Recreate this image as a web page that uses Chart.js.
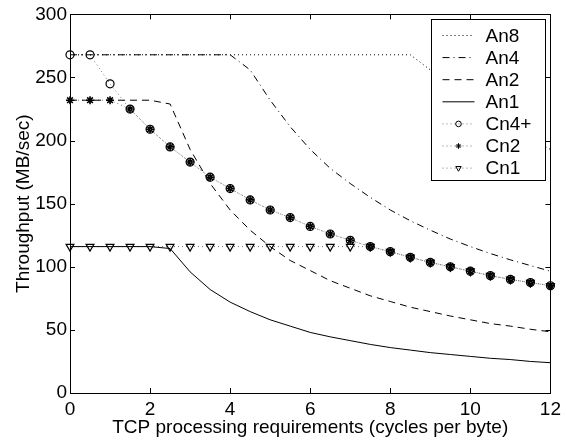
<!DOCTYPE html>
<html>
<head>
<meta charset="utf-8">
<script src="https://cdn.jsdelivr.net/npm/chart.js@4.4.1/dist/chart.umd.min.js"></script>
<style>
  html, body { margin: 0; padding: 0; background: #fff; }
  #wrap { width: 566px; height: 441px; }
</style>
</head>
<body>
<div id="wrap"><canvas id="myChart" width="566" height="441"></canvas></div>
<script>
// cycles per byte, sampled every half cycle
var cycles = [0, 0.5, 1, 1.5, 2, 2.5, 3, 3.5, 4, 4.5, 5, 5.5, 6, 6.5, 7, 7.5, 8, 8.5, 9, 9.5, 10, 10.5, 11, 11.5, 12];

// analytic curves (MB/sec)
var an8 = [268, 268, 268, 268, 268, 268, 268, 268, 268, 268, 268, 268, 268, 268, 268, 268, 268, 268, 256, 244, 232, 221, 211, 202, 193];
var an4 = [268, 268, 268, 268, 268, 268, 268, 268, 268, 256, 232, 211, 193, 178, 166, 155, 145, 136.5, 129, 122, 116, 110.5, 105.5, 101, 96.5];
var an2 = [232, 232, 232, 232, 232, 229, 193, 166, 145, 129, 116, 105, 97, 89, 83, 77, 72.5, 68, 64.5, 61, 58, 55, 53, 50.5, 48.5];
var an1 = [116, 116, 116, 116, 116, 114.5, 96, 82, 72, 64.5, 58, 53, 48, 44.5, 41.5, 38.5, 36, 34, 32, 30.5, 29, 27.5, 26.5, 25, 24];

// measured runs (MB/sec)
var cn4 = [268, 268, 245, 225, 209, 195, 183, 171, 162, 153, 145, 139, 132, 126, 121, 116, 112, 107.5, 103.5, 100, 96.5, 93, 90, 87.5, 85];
var cn2 = [232, 232, 232, 225, 209, 195, 183, 171, 162, 153, 145, 139, 132, 126, 121, 116, 112, 107.5, 103.5, 100, 96.5, 93, 90, 87.5, 85];
var cn1 = [116, 116, 116, 116, 116, 116, 116, 116, 116, 116, 116, 116, 116, 116, 116, 116, 112, 107.5, 103.5, 100, 96.5, 93, 90, 87.5, 85];

var xTicks = [0, 2, 4, 6, 8, 10, 12];
var yTicks = [0, 50, 100, 150, 200, 250, 300];

var FONT = 'Arial, "Liberation Sans", Helvetica, sans-serif';

function pts(ys) {
  return cycles.map(function (x, i) { return {x: x, y: ys[i]}; });
}

function curve(label, ys, dash, width) {
  return {
    label: label, data: pts(ys),
    borderColor: '#000', borderWidth: width || 1, borderDash: dash,
    pointRadius: 0, tension: 0, fill: false
  };
}

function run(label, ys, style, radius, rotation, bw) {
  return {
    label: label, data: pts(ys),
    borderColor: '#777', borderWidth: 1, borderDash: [1, 3],
    pointStyle: style, pointRadius: radius, pointRotation: rotation || 0,
    pointBorderColor: '#000', pointBackgroundColor: 'rgba(0,0,0,0)',
    pointBorderWidth: bw || 1, tension: 0, fill: false, clip: false
  };
}

// box around the plot with inward ticks on every side, then the legend on top
var framePlugin = {
  id: 'frame',
  afterDatasetsDraw: function (chart) {
    var ctx = chart.ctx, a = chart.chartArea;
    var xs = chart.scales.x, ys = chart.scales.y;
    ctx.save();
    ctx.setLineDash([]);
    ctx.strokeStyle = '#000';
    ctx.lineWidth = 1;
    ctx.strokeRect(Math.round(a.left) + 0.5, Math.round(a.top) + 0.5,
                   Math.round(a.right - a.left), Math.round(a.bottom - a.top));
    ctx.beginPath();
    xTicks.forEach(function (v) {
      var px = Math.round(xs.getPixelForValue(v)) + 0.5;
      ctx.moveTo(px, a.bottom); ctx.lineTo(px, a.bottom - 5);
      ctx.moveTo(px, a.top); ctx.lineTo(px, a.top + 5);
    });
    yTicks.forEach(function (v) {
      var py = Math.round(ys.getPixelForValue(v)) + 0.5;
      ctx.moveTo(a.left, py); ctx.lineTo(a.left + 5, py);
      ctx.moveTo(a.right, py); ctx.lineTo(a.right - 5, py);
    });
    ctx.stroke();

    // legend
    var bw = 114, bh = 161;
    var bx = Math.round(a.right - 5 - bw) + 0.5, by = Math.round(a.top + 5) + 0.5;
    ctx.fillStyle = '#fff';
    ctx.fillRect(bx, by, bw, bh);
    ctx.strokeRect(bx, by, bw, bh);
    ctx.font = '19px ' + FONT;
    ctx.textBaseline = 'middle';
    ctx.textAlign = 'left';
    chart.data.datasets.forEach(function (ds, i) {
      var ry = by + 16 + i * 22.1;
      ctx.strokeStyle = ds.borderColor;
      ctx.lineWidth = ds.borderWidth;
      ctx.setLineDash(ds.borderDash || []);
      ctx.beginPath();
      ctx.moveTo(bx + 11, ry); ctx.lineTo(bx + 43, ry);
      ctx.stroke();
      ctx.setLineDash([]);
      if (ds.pointRadius > 0) {
        ctx.strokeStyle = '#000';
        ctx.fillStyle = 'rgba(0,0,0,0)';
        ctx.lineWidth = 1;
        Chart.helpers.drawPoint(ctx, {
          pointStyle: ds.pointStyle, radius: ds.pointRadius * 0.7,
          rotation: ds.pointRotation, borderWidth: 1
        }, bx + 27, ry);
      }
      ctx.fillStyle = '#000';
      ctx.fillText(ds.label, bx + 54, ry + 1);
    });
    ctx.restore();
  }
};

var chart = new Chart(document.getElementById('myChart'), {
  type: 'line',
  data: {
    datasets: [
      curve('An8', an8, [1, 3]),
      curve('An4', an4, [7, 4, 1, 4]),
      curve('An2', an2, [7, 5]),
      curve('An1', an1, []),
      run('Cn4+', cn4, 'circle', 4, 0, 1.2),
      run('Cn2', cn2, 'star', 4, 0, 1.6),
      run('Cn1', cn1, 'triangle', 4.5, 180, 1.2)
    ]
  },
  options: {
    responsive: false,
    animation: false,
    devicePixelRatio: 1,
    layout: { padding: { top: 12, right: 13, left: 0, bottom: 0 } },
    plugins: { legend: { display: false }, tooltip: { enabled: false } },
    scales: {
      x: {
        type: 'linear', min: 0, max: 12,
        grid: { drawOnChartArea: false, drawTicks: false },
        border: { display: false },
        ticks: { stepSize: 2, color: '#000', padding: 5, maxRotation: 0,
                 font: { size: 19, family: FONT } },
        title: { display: true, text: 'TCP processing requirements (cycles per byte)',
                 color: '#000', font: { size: 19, family: FONT },
                 padding: { top: 0, bottom: 2 } },
        afterFit: function (s) { s.height = 48; }
      },
      y: {
        min: 0, max: 300,
        grid: { drawOnChartArea: false, drawTicks: false },
        border: { display: false },
        ticks: { stepSize: 50, color: '#000', padding: 3,
                 font: { size: 19, family: FONT } },
        title: { display: true, text: 'Throughput (MB/sec)',
                 color: '#000', font: { size: 19, family: FONT }, padding: 12 },
        afterFit: function (s) { s.width = 70; }
      }
    }
  },
  plugins: [framePlugin]
});
</script>
</body>
</html>
